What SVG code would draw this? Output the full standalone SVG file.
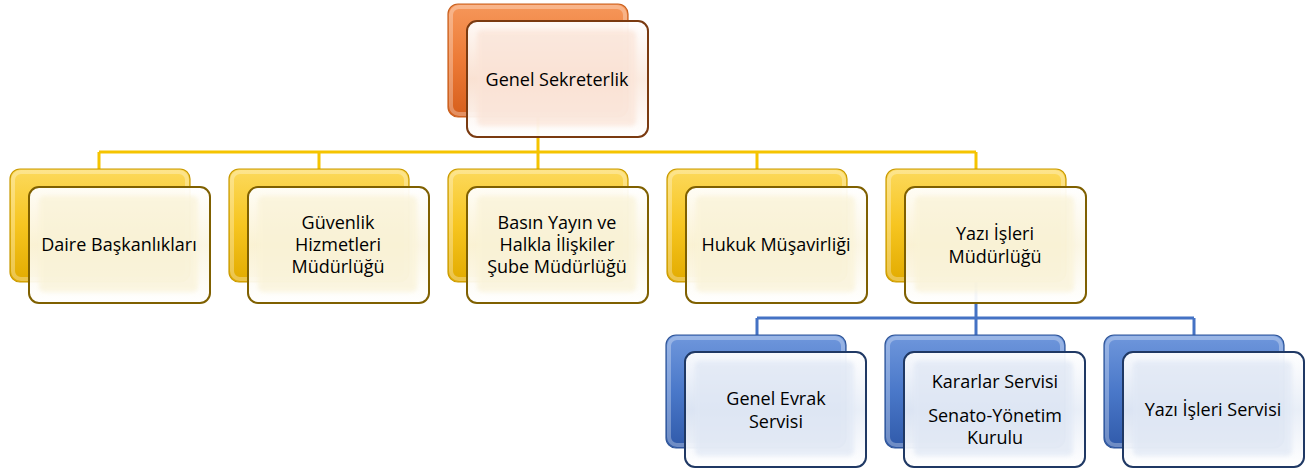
<svg xmlns="http://www.w3.org/2000/svg" width="1314" height="472" viewBox="0 0 1314 472">
<style>
.lbl{font-family:"Open Sans","Noto Sans",sans-serif;font-size:18px;fill:#000;text-anchor:middle}
.yl{stroke:#f5c400;stroke-width:3;fill:none}
.bl{stroke:#4472c4;stroke-width:3;fill:none}
.bo{fill:url(#gBackO);stroke:#c8601f;stroke-width:1.2}
.by{fill:url(#gBackY);stroke:#c99a00;stroke-width:1.2}
.bb{fill:url(#gBackB);stroke:#2f5597;stroke-width:1.2}
.fo{fill:url(#gFrontO);stroke:#7a3a10;stroke-width:2}
.fy{fill:url(#gFrontY);stroke:#7f6000;stroke-width:2}
.fb{fill:url(#gFrontB);stroke:#1f3864;stroke-width:2}
.hi{fill:none;stroke:#ffffff;stroke-opacity:0.3;stroke-width:4}
.io{fill:#fae3d6;opacity:0.7;filter:url(#soft)}
.iy{fill:#f9f2d6;opacity:0.7;filter:url(#soft)}
.ib{fill:#dfe7f4;opacity:0.7;filter:url(#soft)}
</style>
<defs>
<filter id="soft" x="-10%" y="-10%" width="120%" height="120%"><feGaussianBlur stdDeviation="2"/></filter>
<linearGradient id="gBackO" x1="0" y1="0" x2="0" y2="1"><stop offset="0" stop-color="#f6975a"/><stop offset="0.5" stop-color="#ec7a36"/><stop offset="1" stop-color="#d65e1c"/></linearGradient>
<linearGradient id="gBackY" x1="0" y1="0" x2="0" y2="1"><stop offset="0" stop-color="#fcd95c"/><stop offset="0.5" stop-color="#f6c520"/><stop offset="1" stop-color="#e2ab00"/></linearGradient>
<linearGradient id="gBackB" x1="0" y1="0" x2="0" y2="1"><stop offset="0" stop-color="#6f97dc"/><stop offset="0.5" stop-color="#4a78c9"/><stop offset="1" stop-color="#305aaa"/></linearGradient>
<linearGradient id="gFrontO" x1="0" y1="0" x2="0" y2="1"><stop offset="0" stop-color="#ffffff" stop-opacity="0.95"/><stop offset="0.5" stop-color="#fbeadf" stop-opacity="0.93"/><stop offset="1" stop-color="#ffffff" stop-opacity="0.95"/></linearGradient>
<linearGradient id="gFrontY" x1="0" y1="0" x2="0" y2="1"><stop offset="0" stop-color="#ffffff" stop-opacity="0.95"/><stop offset="0.5" stop-color="#fbf6e2" stop-opacity="0.93"/><stop offset="1" stop-color="#ffffff" stop-opacity="0.95"/></linearGradient>
<linearGradient id="gFrontB" x1="0" y1="0" x2="0" y2="1"><stop offset="0" stop-color="#ffffff" stop-opacity="0.95"/><stop offset="0.5" stop-color="#e7edf7" stop-opacity="0.93"/><stop offset="1" stop-color="#ffffff" stop-opacity="0.95"/></linearGradient>
</defs>
<rect width="1314" height="472" fill="#ffffff"/>

<g id="connectors">
<path class="yl" d="M538 117 V152 M99 152 H976 M99 152 V169 M319 152 V169 M538 152 V169 M757 152 V169 M976 152 V169"/>
<path class="bl" d="M976 282 V318 M757 318 H1194 M757 318 V335 M976 318 V335 M1194 318 V335"/>
</g>

<g id="node-genel-sekreterlik">
<rect class="bo" x="448" y="4" width="180" height="113" rx="10"/>
<rect class="hi" x="451" y="7" width="174" height="107" rx="8"/>
<rect class="fo" x="467" y="21" width="181" height="116" rx="10"/>
<rect class="io" x="477" y="30" width="159" height="96" rx="5"/>
<text class="lbl" x="557" y="86">Genel Sekreterlik</text>
</g>

<g id="node-daire">
<rect class="by" x="10" y="169" width="180" height="113" rx="10"/>
<rect class="hi" x="13" y="172" width="174" height="107" rx="8"/>
<rect class="fy" x="29" y="187" width="181" height="116" rx="10"/>
<rect class="iy" x="39" y="196" width="159" height="96" rx="5"/>
<text class="lbl" x="119" y="251">Daire Başkanlıkları</text>
</g>

<g id="node-guvenlik">
<rect class="by" x="229" y="169" width="180" height="113" rx="10"/>
<rect class="hi" x="232" y="172" width="174" height="107" rx="8"/>
<rect class="fy" x="248" y="187" width="181" height="116" rx="10"/>
<rect class="iy" x="258" y="196" width="159" height="96" rx="5"/>
<text class="lbl" x="338" y="229">Güvenlik</text>
<text class="lbl" x="338" y="251">Hizmetleri</text>
<text class="lbl" x="338" y="273">Müdürlüğü</text>
</g>

<g id="node-basin">
<rect class="by" x="448" y="169" width="180" height="113" rx="10"/>
<rect class="hi" x="451" y="172" width="174" height="107" rx="8"/>
<rect class="fy" x="467" y="187" width="181" height="116" rx="10"/>
<rect class="iy" x="477" y="196" width="159" height="96" rx="5"/>
<text class="lbl" x="557" y="229">Basın Yayın ve</text>
<text class="lbl" x="557" y="251">Halkla İlişkiler</text>
<text class="lbl" x="557" y="273">Şube Müdürlüğü</text>
</g>

<g id="node-hukuk">
<rect class="by" x="667" y="169" width="180" height="113" rx="10"/>
<rect class="hi" x="670" y="172" width="174" height="107" rx="8"/>
<rect class="fy" x="686" y="187" width="181" height="116" rx="10"/>
<rect class="iy" x="696" y="196" width="159" height="96" rx="5"/>
<text class="lbl" x="776" y="251">Hukuk Müşavirliği</text>
</g>

<g id="node-yazi-isleri-mudurlugu">
<rect class="by" x="886" y="169" width="180" height="113" rx="10"/>
<rect class="hi" x="889" y="172" width="174" height="107" rx="8"/>
<rect class="fy" x="905" y="187" width="181" height="116" rx="10"/>
<rect class="iy" x="915" y="196" width="159" height="96" rx="5"/>
<text class="lbl" x="995" y="240">Yazı İşleri</text>
<text class="lbl" x="995" y="263">Müdürlüğü</text>
</g>

<g id="node-genel-evrak">
<rect class="bb" x="666" y="335" width="180" height="113" rx="10"/>
<rect class="hi" x="669" y="338" width="174" height="107" rx="8"/>
<rect class="fb" x="685" y="352" width="181" height="115" rx="10"/>
<rect class="ib" x="695" y="361" width="159" height="95" rx="5"/>
<text class="lbl" x="776" y="405">Genel Evrak</text>
<text class="lbl" x="776" y="428">Servisi</text>
</g>

<g id="node-kararlar">
<rect class="bb" x="885" y="335" width="180" height="113" rx="10"/>
<rect class="hi" x="888" y="338" width="174" height="107" rx="8"/>
<rect class="fb" x="904" y="352" width="181" height="115" rx="10"/>
<rect class="ib" x="914" y="361" width="159" height="95" rx="5"/>
<text class="lbl" x="995" y="388">Kararlar Servisi</text>
<text class="lbl" x="995" y="422">Senato-Yönetim</text>
<text class="lbl" x="995" y="444">Kurulu</text>
</g>

<g id="node-yazi-isleri-servisi">
<rect class="bb" x="1104" y="335" width="180" height="113" rx="10"/>
<rect class="hi" x="1107" y="338" width="174" height="107" rx="8"/>
<rect class="fb" x="1123" y="352" width="181" height="115" rx="10"/>
<rect class="ib" x="1133" y="361" width="159" height="95" rx="5"/>
<text class="lbl" x="1213" y="416">Yazı İşleri Servisi</text>
</g>
</svg>
